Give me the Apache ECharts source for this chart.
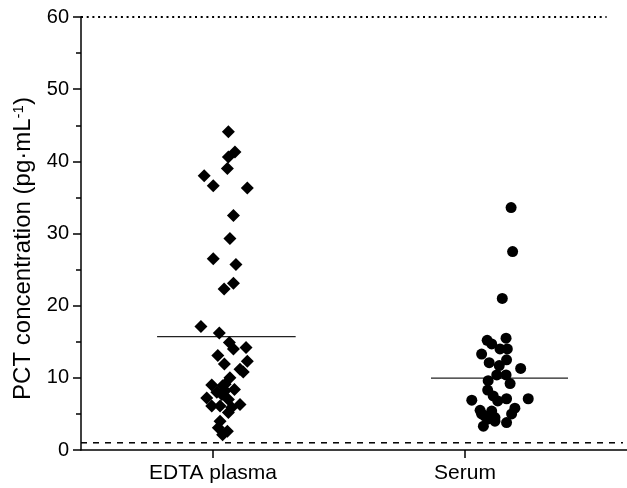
<!DOCTYPE html>
<html>
<head>
<meta charset="utf-8">
<script src="https://cdn.jsdelivr.net/npm/echarts@6/dist/echarts.min.js"></script>
<style>html,body{margin:0;padding:0;background:#fff}#c{width:627px;height:488px}</style>
</head>
<body>
<div id="c"></div>
<script>
// ---- data ----
const categories = ['EDTA plasma', 'Serum'];
const categoryPos = [1, 2];
const yTicks = [0, 10, 20, 30, 40, 50, 60];
// jittered x position (group + jitter) and concentration
const edtaX = [1.061,1.087,1.061,1.057,0.965,1.001,1.136,1.081,1.067,1.001,1.091,1.081,1.044,0.952,1.025,1.065,1.131,1.081,1.019,1.136,1.045,1.107,1.120,1.067,0.995,1.038,1.085,1.035,0.975,1.061,1.107,0.995,1.028,1.074,1.061,1.028,1.021,1.057,1.038,1.048,1.015,1.048];
const edtaY = [44.1,41.3,40.6,39.0,38.0,36.6,36.3,32.5,29.3,26.5,25.7,23.1,22.3,17.1,16.2,14.9,14.2,14.0,13.1,12.3,11.9,11.2,10.8,10.0,9.0,8.9,8.4,7.7,7.2,7.0,6.3,6.1,6.1,5.9,5.2,4.0,3.1,2.6,2.1,9.1,8.0,8.2];
const serumX = [2.183,2.189,2.148,2.088,2.163,2.066,2.106,2.139,2.168,2.165,2.096,2.136,2.221,2.126,2.163,2.092,2.179,2.090,2.112,2.027,2.251,2.165,2.130,2.198,2.060,2.106,2.185,2.079,2.119,2.092,2.165,2.073,2.119,2.066];
const serumY = [33.6,27.5,21.0,15.2,15.5,13.3,14.7,14.0,14.0,12.5,12.1,11.7,11.3,10.4,10.4,9.6,9.2,8.3,7.5,6.9,7.1,7.1,6.8,5.8,5.5,5.4,5.0,4.7,4.5,4.3,3.8,3.3,4.0,5.0];
const meanValues = [15.7, 9.95];
const meanLineX = [[0.778, 1.328], [1.865, 2.409]];
const lowerLimit = 1;   // dashed
const upperLimit = 60;  // dotted
const xRange = [0.476, 2.643];

// ---- chart ----
const font = 'Liberation Sans, Arial, sans-serif';
const pairs = (xs, ys) => xs.map((x, i) => [x, ys[i]]);
const chart = echarts.init(document.getElementById('c'), null, {renderer: 'canvas'});
chart.setOption({
  backgroundColor: '#fff',
  animation: false,
  grid: {left: 81, right: 0, top: 17, bottom: 38, containLabel: false},
  xAxis: {
    type: 'value', min: xRange[0], max: xRange[1],
    splitLine: {show: false},
    axisLine: {show: true, onZero: false, lineStyle: {color: '#000', width: 1.5}},
    axisTick: {show: true, customValues: categoryPos, length: 8, lineStyle: {color: '#000', width: 1.5}},
    axisLabel: {customValues: categoryPos, color: '#000', fontFamily: font, fontSize: 21, margin: 13,
      formatter: v => categories[categoryPos.indexOf(Math.round(v))] || ''}
  },
  yAxis: {
    type: 'value', min: yTicks[0], max: yTicks[yTicks.length - 1], interval: 10,
    splitLine: {show: false},
    axisLine: {show: true, lineStyle: {color: '#000', width: 1.5}},
    axisTick: {show: true, length: 8, lineStyle: {color: '#000', width: 1.5}},
    minorTick: {show: true, splitNumber: 2, length: 5, lineStyle: {color: '#000', width: 1.5}},
    axisLabel: {color: '#000', fontFamily: font, fontSize: 20, margin: 12},
    name: 'PCT concentration (pg·mL{sup|-1})',
    nameLocation: 'middle', nameGap: 42,
    nameTextStyle: {color: '#000', fontFamily: font, fontSize: 24, padding: [0, 30, 0, 0],
      rich: {sup: {fontSize: 15, verticalAlign: 'top', fontFamily: font, color: '#000', padding: [0, 0, 10, 0]}}}
  },
  series: [
    {type: 'scatter', data: pairs(edtaX, edtaY), symbol: 'diamond', symbolSize: [13, 13],
      itemStyle: {color: '#000', opacity: 1}, z: 3},
    {type: 'scatter', data: pairs(serumX, serumY), symbol: 'circle', symbolSize: 11,
      itemStyle: {color: '#000', opacity: 1}, z: 3},
    ...meanValues.map((m, i) => ({type: 'line', data: [[meanLineX[i][0], m], [meanLineX[i][1], m]],
      symbol: 'none', lineStyle: {color: '#222', width: 1.3}, z: 2})),
    {type: 'line', data: [[xRange[0], upperLimit], [2.562, upperLimit]], symbol: 'none',
      lineStyle: {color: '#000', width: 2.2, type: [2, 3.7], cap: 'butt'}, z: 2},
    {type: 'line', data: [[xRange[0], lowerLimit], [2.627, lowerLimit]], symbol: 'none',
      lineStyle: {color: '#000', width: 1.5, type: [6, 6]}, z: 2}
  ]
});
</script>
</body>
</html>
